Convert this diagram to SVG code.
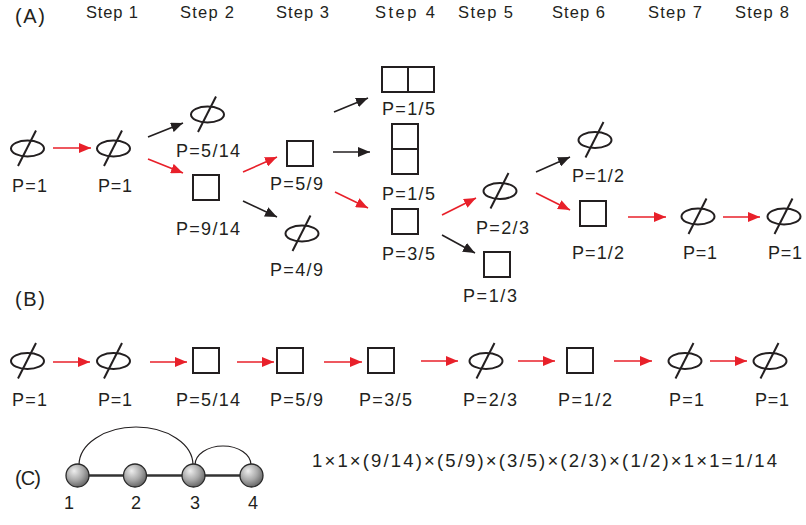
<svg xmlns="http://www.w3.org/2000/svg" xmlns:xlink="http://www.w3.org/1999/xlink" width="806" height="525" viewBox="0 0 806 525">
<style>
  text { font-family: "Liberation Sans", Arial, sans-serif; fill: #231f20; }
  .step { font-size: 16.5px; }
  .sec { font-size: 20px; }
  .p { font-size: 18px; }
  .num { font-size: 18px; text-anchor: middle; }
  .formula { font-size: 18.5px; }
  .shape { fill: none; stroke: #231f20; stroke-width: 2; }
  .red { stroke: #e8202a; stroke-width: 1.6; fill: none; marker-end: url(#ah-red); }
  .blk { stroke: #231f20; stroke-width: 1.6; fill: none; marker-end: url(#ah-blk); }
  .arc { fill: none; stroke: #231f20; stroke-width: 1.2; }
  .sphere { fill: url(#sph); stroke: #2a2a2a; stroke-width: 1.3; }
</style>
<defs>
  <marker id="ah-red" markerUnits="userSpaceOnUse" markerWidth="13" markerHeight="10" refX="12" refY="5" orient="auto">
    <path d="M0,0 L12,5 L0,10 z" fill="#e8202a"/>
  </marker>
  <marker id="ah-blk" markerUnits="userSpaceOnUse" markerWidth="13" markerHeight="10" refX="12" refY="5" orient="auto">
    <path d="M0,0 L12,5 L0,10 z" fill="#231f20"/>
  </marker>
  <g id="phi">
    <ellipse cx="0" cy="0" rx="16.5" ry="8" class="shape"/>
    <line x1="-9.5" y1="17.5" x2="8.5" y2="-18" class="shape"/>
  </g>
  <radialGradient id="sph" cx="0.4" cy="0.35" r="0.7" fx="0.35" fy="0.3">
    <stop offset="0" stop-color="#eeeeee"/>
    <stop offset="0.55" stop-color="#a8a8a8"/>
    <stop offset="1" stop-color="#5e5e5e"/>
  </radialGradient>
</defs>

<!-- section labels and headers -->
<g id="headers">
  <text class="sec" x="15" y="23" textLength="30">(A)</text>
  <text class="sec" x="15" y="306" textLength="30">(B)</text>
  <text class="sec" x="15" y="485" textLength="26">(C)</text>
  <text class="step" x="86" y="18" textLength="52">Step 1</text>
  <text class="step" x="180" y="18" textLength="54">Step 2</text>
  <text class="step" x="276" y="18" textLength="53">Step 3</text>
  <text class="step" x="375" y="18" textLength="60">Step 4</text>
  <text class="step" x="458" y="18" textLength="55">Step 5</text>
  <text class="step" x="552" y="18" textLength="53">Step 6</text>
  <text class="step" x="648" y="18" textLength="54">Step 7</text>
  <text class="step" x="735" y="18" textLength="54">Step 8</text>
</g>

<!-- (A) nodes -->
<g id="a-s0"><use xlink:href="#phi" href="#phi" x="27.5" y="148.5"/><text class="p" x="12" y="192" textLength="35">P=1</text></g>
<g id="a-s1"><use xlink:href="#phi" href="#phi" x="113.5" y="148.5"/><text class="p" x="98" y="192" textLength="34">P=1</text></g>
<g id="a-s2-phi"><use xlink:href="#phi" href="#phi" x="207.5" y="114.5"/><text class="p" x="176" y="157" textLength="64">P=5/14</text></g>
<g id="a-s2-sq"><rect class="shape" x="193" y="175" width="26" height="25"/><text class="p" x="176" y="235" textLength="64">P=9/14</text></g>
<g id="a-s3-sq"><rect class="shape" x="287" y="141" width="26" height="25"/><text class="p" x="270" y="190" textLength="53">P=5/9</text></g>
<g id="a-s3-phi"><use xlink:href="#phi" href="#phi" x="302" y="233.5"/><text class="p" x="270" y="276" textLength="53">P=4/9</text></g>
<g id="a-s4-h"><rect class="shape" x="382" y="67" width="52" height="25"/><line class="shape" x1="408" y1="67" x2="408" y2="92"/><text class="p" x="382" y="115" textLength="53">P=1/5</text></g>
<g id="a-s4-v"><rect class="shape" x="392" y="124" width="26" height="50"/><line class="shape" x1="392" y1="149" x2="418" y2="149"/><text class="p" x="382" y="200" textLength="53">P=1/5</text></g>
<g id="a-s4-sq"><rect class="shape" x="392" y="209" width="26" height="25"/><text class="p" x="382" y="260" textLength="53">P=3/5</text></g>
<g id="a-s5-phi"><use xlink:href="#phi" href="#phi" x="500" y="191"/><text class="p" x="476" y="234" textLength="53">P=2/3</text></g>
<g id="a-s5-sq"><rect class="shape" x="484" y="252" width="26" height="25"/><text class="p" x="463" y="302" textLength="54">P=1/3</text></g>
<g id="a-s6-phi"><use xlink:href="#phi" href="#phi" x="595" y="140"/><text class="p" x="572" y="182" textLength="52">P=1/2</text></g>
<g id="a-s6-sq"><rect class="shape" x="580" y="201" width="26" height="25"/><text class="p" x="572" y="259" textLength="52">P=1/2</text></g>
<g id="a-s7"><use xlink:href="#phi" href="#phi" x="698" y="216.5"/><text class="p" x="683" y="259" textLength="34">P=1</text></g>
<g id="a-s8"><use xlink:href="#phi" href="#phi" x="784" y="216.5"/><text class="p" x="768" y="259" textLength="34">P=1</text></g>

<!-- (B) nodes -->
<g id="b-1"><use xlink:href="#phi" href="#phi" x="27.5" y="361"/><text class="p" x="12" y="406" textLength="35">P=1</text></g>
<g id="b-2"><use xlink:href="#phi" href="#phi" x="113.5" y="361"/><text class="p" x="98" y="406" textLength="34">P=1</text></g>
<g id="b-3"><rect class="shape" x="193" y="348" width="26" height="25"/><text class="p" x="176" y="406" textLength="64">P=5/14</text></g>
<g id="b-4"><rect class="shape" x="277" y="348" width="26" height="25"/><text class="p" x="270" y="406" textLength="53">P=5/9</text></g>
<g id="b-5"><rect class="shape" x="368" y="348" width="26" height="25"/><text class="p" x="359" y="406" textLength="53">P=3/5</text></g>
<g id="b-6"><use xlink:href="#phi" href="#phi" x="486" y="361"/><text class="p" x="463" y="406" textLength="54">P=2/3</text></g>
<g id="b-7"><rect class="shape" x="567" y="348" width="26" height="25"/><text class="p" x="558" y="406" textLength="54">P=1/2</text></g>
<g id="b-8"><use xlink:href="#phi" href="#phi" x="685" y="361"/><text class="p" x="669" y="406" textLength="35">P=1</text></g>
<g id="b-9"><use xlink:href="#phi" href="#phi" x="770" y="361"/><text class="p" x="755" y="406" textLength="34">P=1</text></g>

<!-- connectors -->
<g id="connectors">
  <line class="red" x1="53" y1="148" x2="91" y2="148"/>
  <line class="blk" x1="148" y1="137" x2="183" y2="123"/>
  <line class="red" x1="148" y1="159" x2="183" y2="173"/>
  <line class="red" x1="243" y1="172" x2="277" y2="157"/>
  <line class="blk" x1="243" y1="201" x2="277" y2="217"/>
  <line class="blk" x1="334" y1="112" x2="368" y2="98"/>
  <line class="blk" x1="333" y1="152" x2="370" y2="152"/>
  <line class="red" x1="335" y1="192" x2="368" y2="208"/>
  <line class="red" x1="442" y1="215" x2="476" y2="198"/>
  <line class="blk" x1="442" y1="235" x2="475" y2="253"/>
  <line class="blk" x1="536" y1="172" x2="570" y2="157"/>
  <line class="red" x1="536" y1="193" x2="570" y2="210"/>
  <line class="red" x1="628" y1="217" x2="666" y2="217"/>
  <line class="red" x1="723" y1="217" x2="760" y2="217"/>

  <line class="red" x1="53" y1="362" x2="90" y2="362"/>
  <line class="red" x1="150" y1="362" x2="187" y2="362"/>
  <line class="red" x1="237" y1="362" x2="274" y2="362"/>
  <line class="red" x1="324" y1="362" x2="362" y2="362"/>
  <line class="red" x1="421" y1="361" x2="458" y2="361"/>
  <line class="red" x1="518" y1="361" x2="555" y2="361"/>
  <line class="red" x1="614" y1="361" x2="652" y2="361"/>
  <line class="red" x1="710" y1="361" x2="747" y2="361"/>
</g>

<!-- (C) chain -->
<g id="c-chain">
  <line x1="77.5" y1="475.5" x2="251.5" y2="475.5" stroke="#333" stroke-width="2.5"/>
  <path class="arc" d="M79,465 A57,38 0 0 1 193,465"/>
  <path class="arc" d="M195,465 A28,19 0 0 1 251,465"/>
  <g id="c-1"><circle class="sphere" cx="77.5" cy="475.5" r="11.5"/><text class="num" x="69" y="509">1</text></g>
  <g id="c-2"><circle class="sphere" cx="135" cy="475.5" r="11.5"/><text class="num" x="136" y="509">2</text></g>
  <g id="c-3"><circle class="sphere" cx="193.5" cy="475.5" r="11.5"/><text class="num" x="195" y="509">3</text></g>
  <g id="c-4"><circle class="sphere" cx="251.5" cy="475.5" r="11.5"/><text class="num" x="253" y="509">4</text></g>
</g>
<text class="formula" x="312" y="467" textLength="465">1×1×(9/14)×(5/9)×(3/5)×(2/3)×(1/2)×1×1=1/14</text>
</svg>
